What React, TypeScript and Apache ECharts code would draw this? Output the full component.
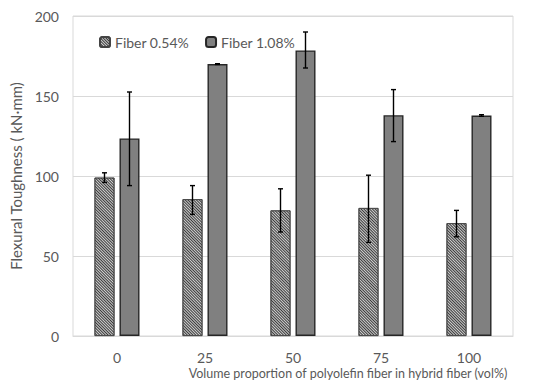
import React, { useEffect, useRef } from "react";
import * as echarts from "echarts";

const categories = ["0", "25", "50", "75", "100"];
const seriesNames = ["Fiber 0.54%", "Fiber 1.08%"];
const fiber054 = [99, 85.5, 78.5, 80, 70.5];
const fiber054Low = [96, 76, 65, 58.5, 62];
const fiber054High = [102, 94, 92, 100.5, 78.5];
const fiber108 = [123.5, 170, 178.5, 138, 137.8];
const fiber108Low = [94, 169.7, 167.5, 121.5, 137.3];
const fiber108High = [152.5, 170.2, 190, 154, 138.3];
const yTicks = { min: 0, max: 200, interval: 50 };
const yName = "Flexural Toughness ( kN·mm)";
const xName = "Volume proportion of polyolefin fiber in hybrid fiber (vol%)";

const FONT = "Lato";
const TXT = "#595959";
const BAR_W = 20;
const BAR_GAP = 5;

function errorSeries(low: number[], high: number[], offset: number) {
  return {
    type: "custom",
    silent: true,
    z: 10,
    data: categories.map((_, i) => [i, low[i], high[i]]),
    renderItem: (params: any, api: any) => {
      const i = api.value(0);
      const lo = api.coord([i, api.value(1)]);
      const hi = api.coord([i, api.value(2)]);
      const x = lo[0] + offset;
      const cap = 2.5;
      const style = { stroke: "#000000", lineWidth: 1.4 };
      return {
        type: "group",
        children: [
          { type: "line", shape: { x1: x, y1: lo[1], x2: x, y2: hi[1] }, style },
          { type: "line", shape: { x1: x - cap, y1: lo[1], x2: x + cap, y2: lo[1] }, style },
          { type: "line", shape: { x1: x - cap, y1: hi[1], x2: x + cap, y2: hi[1] }, style },
        ],
      };
    },
  };
}

export default function App() {
  const ref = useRef<HTMLDivElement>(null);
  useEffect(() => {
    const chart = echarts.init(ref.current!, undefined, { renderer: "svg" });
    const half = (BAR_W + BAR_GAP) / 2;
    chart.setOption({
      animation: false,
      backgroundColor: "#ffffff",
      textStyle: { fontFamily: FONT },
      grid: {
        left: 73,
        right: 37,
        top: 16,
        bottom: 52,
        show: true,
        borderColor: "#d9d9d9",
        borderWidth: 1,
      },
      legend: {
        data: seriesNames,
        left: 94,
        top: 30,
        itemWidth: 10,
        itemHeight: 10,
        itemGap: 16,
        textStyle: { color: TXT, fontSize: 14, fontFamily: FONT },
      },
      graphic: [
        {
          type: "text",
          right: 42,
          top: 367,
          style: { text: xName, fill: TXT, fontSize: 12.5, fontFamily: FONT },
        },
      ],
      xAxis: {
        type: "category",
        data: categories,
        axisLine: { lineStyle: { color: "#d9d9d9" } },
        axisTick: { show: false },
        axisLabel: { color: TXT, fontSize: 14, margin: 14, fontFamily: FONT },
      },
      yAxis: {
        type: "value",
        min: yTicks.min,
        max: yTicks.max,
        interval: yTicks.interval,
        name: yName,
        nameLocation: "middle",
        nameGap: 43,
        nameTextStyle: { color: TXT, fontSize: 15, fontFamily: FONT },
        axisLine: { show: false },
        axisTick: { show: false },
        axisLabel: { color: TXT, fontSize: 14, margin: 14, fontFamily: FONT },
        splitLine: { lineStyle: { color: "#d9d9d9" } },
      },
      series: [
        {
          name: seriesNames[0],
          type: "bar",
          data: fiber054,
          barWidth: BAR_W,
          barGap: "25%",
          itemStyle: {
            color: "#d0d0d0",
            borderColor: "#444444",
            borderWidth: 0.8,
            decal: {
              symbol: "rect",
              symbolSize: 1,
              color: "#3a3a3a",
              dashArrayX: [1, 0],
              dashArrayY: [0.7, 0.8],
              rotation: Math.PI / 4,
            },
          },
        },
        {
          name: seriesNames[1],
          type: "bar",
          data: fiber108,
          barWidth: BAR_W,
          itemStyle: { color: "#808080", borderColor: "#262626", borderWidth: 1.4 },
        },
        errorSeries(fiber054Low, fiber054High, -half),
        errorSeries(fiber108Low, fiber108High, half),
      ],
    });
    return () => chart.dispose();
  }, []);
  return (
    <div
      ref={ref}
      style={{ position: "absolute", left: 0, top: 0, width: 550, height: 388 }}
    />
  );
}
